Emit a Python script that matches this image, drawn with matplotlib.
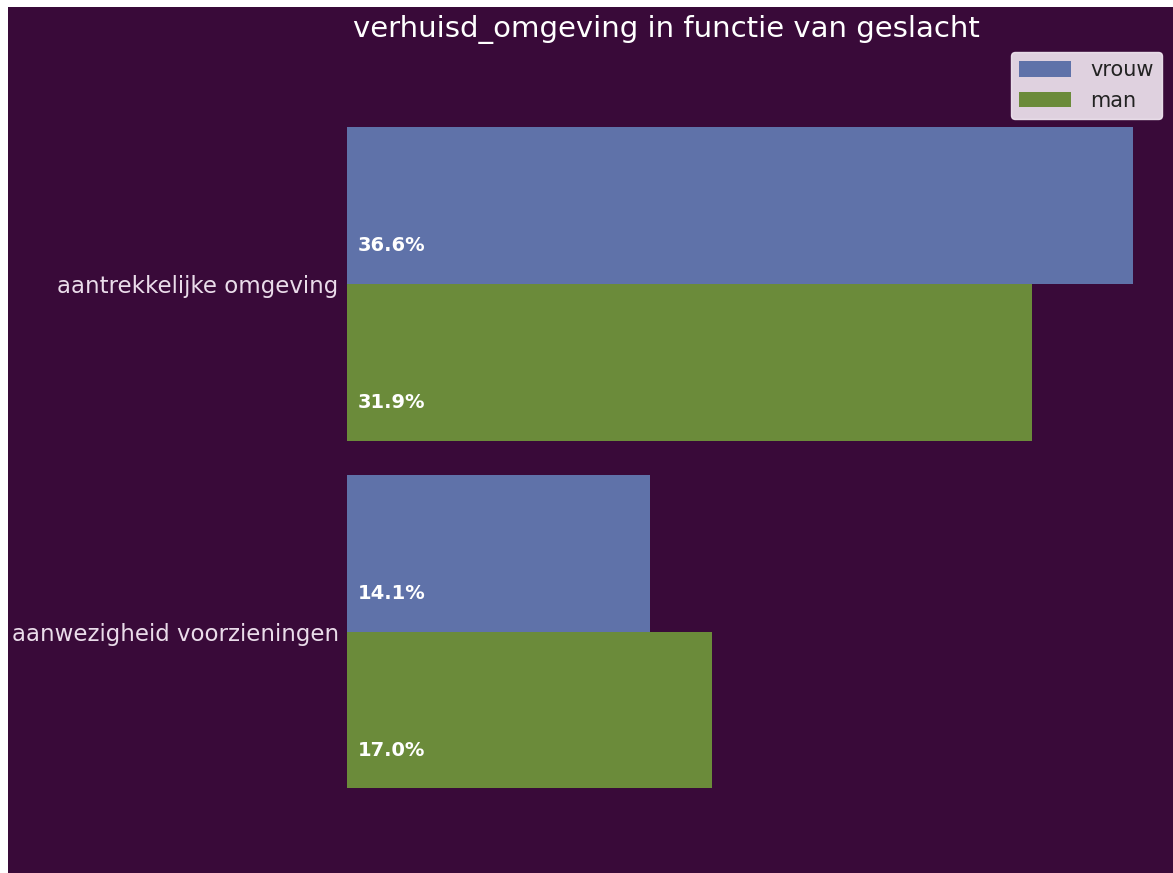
import matplotlib
matplotlib.use("Agg")
import matplotlib.pyplot as plt
import numpy as np

categories = ["aantrekkelijke omgeving", "aanwezigheid voorzieningen"]
series_names = ["vrouw", "man"]
vrouw = [36.6, 14.1]
man = [31.9, 17.0]
title = "verhuisd_omgeving in functie van geslacht"

W, H = 1173, 873
bg = "#390a39"
colors = ["#5f72a9", "#6b8b3a"]

fig = plt.figure(figsize=(W / 100, H / 100), dpi=100, facecolor="white")
# purple backdrop
fig.patches.append(plt.Rectangle((8 / W, 0), 1 - 8 / W, 1 - 7 / H, transform=fig.transFigure,
                                 facecolor=bg, edgecolor="none", zorder=-5))

ax = fig.add_axes([347 / W, 0, 1 - 347 / W, 1 - 7 / H])
ax.set_facecolor(bg)
ax.patch.set_alpha(0)
ax.set_zorder(2)

y = np.arange(len(categories))
h = 0.45
vals = [vrouw, man]
for i, (name, v) in enumerate(zip(series_names, vals)):
    yy = y + (i - 0.5) * h
    ax.barh(yy, v, height=h, color=colors[i], label=name)
    for yi, vi in zip(yy, v):
        ax.text(0.5, yi + 0.115, f"{vi:.1f}%", color="white", fontsize=14,
                fontweight="bold", va="center", ha="left")

ax.set_xlim(0, 38.45)
ax.set_ylim(1.693, -0.796)
ax.set_yticks(y)
ax.set_yticklabels(categories, fontsize=16.5, color="#eadcea")
ax.tick_params(axis="y", length=0, pad=6)
ax.set_xticks([])
for s in ax.spines.values():
    s.set_visible(False)

fig.text(666 / W, 1 - 30 / H, title, ha="center", va="center", fontsize=21, color="white")

leg = ax.legend(loc="upper right", bbox_to_anchor=(1 - 11 / (W - 347), 1 - 45 / (H - 7)),
                fontsize=15, frameon=True, facecolor="#f2e8f2", edgecolor="#f2e8f2",
                handlelength=2.5, handleheight=0.8, handletextpad=0.9, borderaxespad=0)
leg.get_frame().set_alpha(0.9)
for t in leg.get_texts():
    t.set_color("#222222")

fig.savefig("out.png", dpi=100, facecolor="white")
